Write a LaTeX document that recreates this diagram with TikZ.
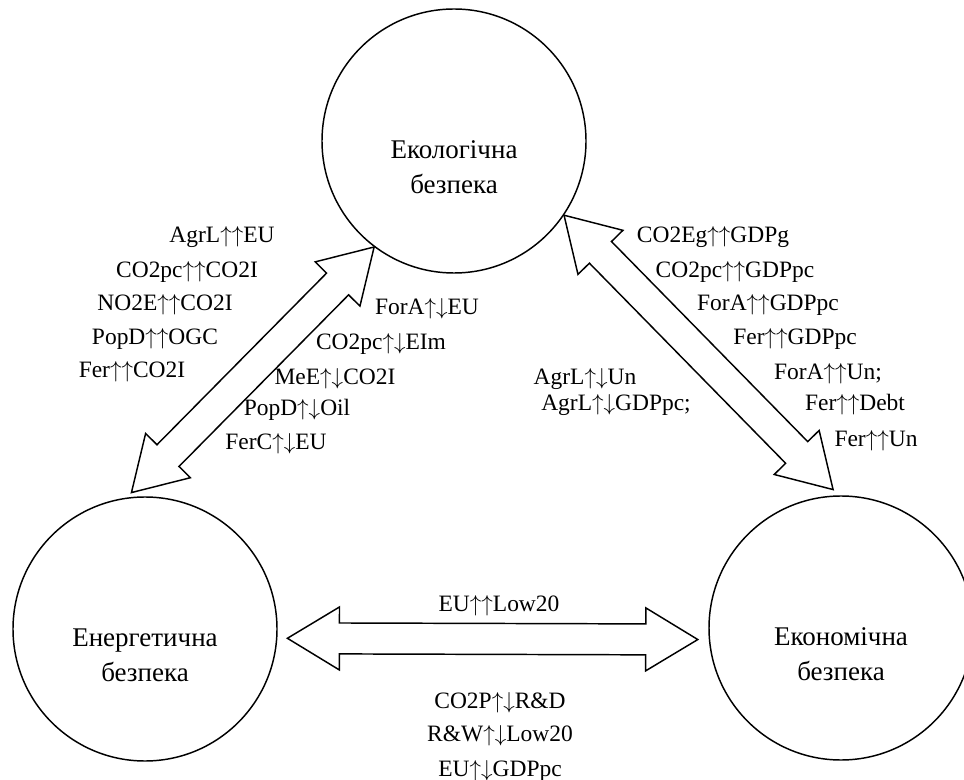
\documentclass[tikz,border=0pt]{standalone}
\usepackage{fontspec}
\setmainfont{Liberation Serif}
\usetikzlibrary{calc}

% arrows in the labels
\newcommand{\upar}{$\uparrow$}
\newcommand{\dnar}{$\downarrow$}

% hollow two-headed block arrow between two points (with gaps at the ends)
\newcommand{\headlen}{39pt}
\newcommand{\headhalf}{23.6pt}
\newcommand{\shafthalf}{11.6pt}
\newcommand{\dblblock}[4]{%
    \coordinate (p) at ($(#1)!#3!(#2)$);
    \coordinate (q) at ($(#2)!#4!(#1)$);
    \coordinate (pb) at ($(p)!\headlen!(q)$);
    \coordinate (qb) at ($(q)!\headlen!(p)$);
    \draw[blk] (p) -- ($(pb)!\headhalf!90:(q)$) -- ($(pb)!\shafthalf!90:(q)$)
        -- ($(qb)!\shafthalf!-90:(p)$) -- ($(qb)!\headhalf!-90:(p)$) -- (q)
        -- ($(qb)!\headhalf!90:(p)$) -- ($(qb)!\shafthalf!90:(p)$)
        -- ($(pb)!\shafthalf!-90:(q)$) -- ($(pb)!\headhalf!-90:(q)$) -- cycle;
}

\begin{document}
\begin{tikzpicture}[
        x=0.75pt, y=-0.75pt,
        circ/.style={circle, draw, line width=1.1pt, minimum size=198pt, inner sep=0pt},
        ctxt/.style={font=\fontsize{20.25}{26.25}\selectfont, align=center, yshift=-19.5pt},
        lbl/.style={font=\fontsize{17.6}{22}\selectfont, anchor=base, inner sep=0pt},
        blk/.style={draw, line width=1.1pt, line join=miter, fill=white}
    ]
    \useasboundingbox (0,0) rectangle (964,780);

    \node[circ, label={[ctxt]center:Екологічна\\безпека}] (eco) at (454,141) {};
    \node[circ, label={[ctxt]center:Енергетична\\безпека}] (ener) at (145,629) {};
    \node[circ, label={[ctxt]center:Економічна\\безпека}] (econ) at (841,628) {};

    \dblblock{eco.233}{ener.98}{0pt}{5.25pt}
    \dblblock{eco.326}{econ.91}{0pt}{6pt}
    \dblblock{ener.356}{econ.185}{7.5pt}{8.25pt}

    % ecology - energy
    \node[lbl] (l1) at (222,243) {AgrL\upar\upar EU};
    \node[lbl] (l2) at (187,278) {CO2pc\upar\upar CO2I};
    \node[lbl] (l3) at (165,311) {NO2E\upar\upar CO2I};
    \node[lbl] (l4) at (155,345) {PopD\upar\upar OGC};
    \node[lbl] (l5) at (132,378) {Fer\upar\upar CO2I};
    \node[lbl] (m1) at (427,315) {ForA\upar\dnar EU};
    \node[lbl] (m2) at (381,350) {CO2pc\upar\dnar EIm};
    \node[lbl] (m3) at (335,385) {MeE\upar\dnar CO2I};
    \node[lbl] (m4) at (297,416) {PopD\upar\dnar Oil};
    \node[lbl] (m5) at (276,450) {FerC\upar\dnar EU};

    % ecology - economy
    \node[lbl] (r1) at (713,243) {CO2Eg\upar\upar GDPg};
    \node[lbl] (r2) at (735,278) {CO2pc\upar\upar GDPpc};
    \node[lbl] (r3) at (768,311) {ForA\upar\upar GDPpc};
    \node[lbl] (r4) at (795,345) {Fer\upar\upar GDPpc};
    \node[lbl] (r5) at (828,380) {ForA\upar\upar Un;};
    \node[lbl] (r6) at (855,411) {Fer\upar\upar Debt};
    \node[lbl] (r7) at (876,446) {Fer\upar\upar Un};
    \node[lbl] (c1) at (585,385) {AgrL\upar\dnar Un};
    \node[lbl] (c2) at (616,411) {AgrL\upar\dnar GDPpc;};

    % energy - economy
    \node[lbl] (b0) at (499,611) {EU\upar\upar Low20};
    \node[lbl] (b1) at (500,708) {CO2P\upar\dnar R\&D};
    \node[lbl] (b2) at (500,741) {R\&W\upar\dnar Low20};
    \node[lbl] (b3) at (500,776) {EU\upar\dnar GDPpc};
\end{tikzpicture}
\end{document}
